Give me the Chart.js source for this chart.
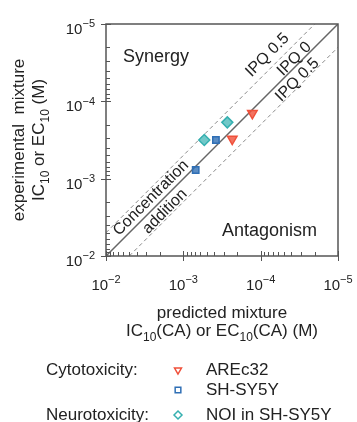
<!DOCTYPE html>
<html>
<head>
<meta charset="utf-8">
<script src="https://cdn.jsdelivr.net/npm/chart.js@4.4.1/dist/chart.umd.min.js"></script>
<style>
html,body{margin:0;padding:0;background:#fff;}
#wrap{width:357px;height:422px;position:relative;}
</style>
</head>
<body>
<div id="wrap"><canvas id="c" width="357" height="422"></canvas></div>
<script>
// ---- data ----
const seriesNames = ['AREc32', 'SH-SY5Y', 'NOI in SH-SY5Y'];
const groupNames = ['Cytotoxicity:', '', 'Neurotoxicity:'];
const predictedAREc32 = [1.28e-4, 2.33e-4];
const experimentalAREc32 = [1.43e-4, 3.07e-4];
const predictedSHSY5Y = [3.79e-4, 6.92e-4];
const experimentalSHSY5Y = [3.16e-4, 7.73e-4];
const predictedNOI = [2.70e-4, 5.36e-4];
const experimentalNOI = [1.87e-4, 3.16e-4];
const tickValues = [1e-2, 1e-3, 1e-4, 1e-5];
const tickExponents = ['\u22122', '\u22123', '\u22124', '\u22125'];
const axisMin = 1e-5, axisMax = 1e-2;
const ipqFactor = 2; // dashed lines: factor 2 from concentration addition

const colors = ['#f0503a', '#2f6fb5', '#35b0b0'];
const fills = ['rgba(240,80,58,0.8)', 'rgba(47,111,181,0.8)', 'rgba(53,176,176,0.7)'];
const styles = ['triangle', 'rect', 'rectRot'];
const rotations = [180, 0, 0];

function pts(xs, ys){ return xs.map((x,i)=>({x:x, y:ys[i]})); }

const FONT = '"Liberation Sans", Arial, sans-serif';
const TXT = '#222';

function richWidth(ctx, segs, base, small){
  let w = 0;
  segs.forEach(s=>{ ctx.font = (s.sub||s.sup? small: base) + 'px ' + FONT; w += ctx.measureText(s.t).width; });
  return w;
}
function drawRich(ctx, segs, x, y, base, small, align){
  const w = richWidth(ctx, segs, base, small);
  let cx = align === 'center' ? x - w/2 : (align === 'right' ? x - w : x);
  ctx.textAlign = 'left';
  ctx.textBaseline = 'alphabetic';
  segs.forEach(s=>{
    const sz = (s.sub||s.sup)? small: base;
    ctx.font = sz + 'px ' + FONT;
    const dy = s.sub ? base*0.28 : (s.sup ? -base*0.45 : 0);
    ctx.fillText(s.t, cx, y + dy);
    cx += ctx.measureText(s.t).width;
  });
}

const decor = {
  id: 'decor',
  afterDraw(chart){
    const ctx = chart.ctx;
    const a = chart.chartArea;
    const xs = chart.scales.x, ys = chart.scales.y;
    ctx.save();
    // frame
    ctx.strokeStyle = '#555';
    ctx.lineWidth = 1.5;
    ctx.strokeRect(a.left, a.top, a.right - a.left, a.bottom - a.top);
    // ticks
    ctx.lineWidth = 1;
    ctx.strokeStyle = '#555';
    for (let e = -5; e <= -3; e++){
      for (let k = 2; k <= 9; k++){
        const v = k * Math.pow(10, e);
        const px = Math.round(xs.getPixelForValue(v)) + 0.5;
        const py = Math.round(ys.getPixelForValue(v)) + 0.5;
        ctx.beginPath();
        ctx.moveTo(px, a.bottom); ctx.lineTo(px, a.bottom - 4);
        ctx.moveTo(a.left, py); ctx.lineTo(a.left + 4, py);
        ctx.stroke();
      }
    }
    tickValues.forEach(v=>{
      const px = Math.round(xs.getPixelForValue(v)) + 0.5;
      const py = Math.round(ys.getPixelForValue(v)) + 0.5;
      ctx.beginPath();
      ctx.moveTo(px, a.bottom + 5); ctx.lineTo(px, a.bottom - 5);
      ctx.moveTo(a.left - 5, py); ctx.lineTo(a.left + 5, py);
      ctx.stroke();
    });
    // tick labels
    ctx.fillStyle = TXT;
    tickValues.forEach((v,i)=>{
      const segs = [{t:'10'},{t:tickExponents[i], sup:true}];
      const px = xs.getPixelForValue(v);
      drawRich(ctx, segs, px, a.bottom + 34, 15, 11, 'center');
      const py = ys.getPixelForValue(v);
      drawRich(ctx, segs, a.left - 11, py + 10, 15, 11, 'right');
    });
    // axis titles
    const cxm = (a.left + a.right)/2, cym = (a.top + a.bottom)/2;
    drawRich(ctx, [{t:'predicted mixture'}], cxm, a.bottom + 62, 17, 12, 'center');
    drawRich(ctx, [{t:'IC'},{t:'10',sub:true},{t:'(CA) or EC'},{t:'10',sub:true},{t:'(CA) (M)'}], cxm, a.bottom + 80, 17, 12, 'center');
    ctx.save();
    ctx.translate(24, cym);
    ctx.rotate(-Math.PI/2);
    drawRich(ctx, [{t:'experimental  mixture'}], 0, 0, 17, 12, 'center');
    ctx.restore();
    ctx.save();
    ctx.translate(44, cym);
    ctx.rotate(-Math.PI/2);
    drawRich(ctx, [{t:'IC'},{t:'10',sub:true},{t:' or EC'},{t:'10',sub:true},{t:' (M)'}], 0, 0, 17, 12, 'center');
    ctx.restore();
    // region labels
    const W = a.right - a.left, H = a.bottom - a.top;
    ctx.font = '18px ' + FONT;
    ctx.textAlign = 'left'; ctx.textBaseline = 'alphabetic';
    ctx.fillText('Synergy', a.left + 0.073*W, a.top + 0.165*H);
    ctx.fillText('Antagonism', a.left + 0.50*W, a.top + 0.915*H);
    // diagonal labels
    const rot = [
      ['IPQ 0.5', 0.696, 0.134],
      ['IPQ 0', 0.812, 0.151],
      ['IPQ 0.5', 0.825, 0.241],
      ['Concentration', 0.194, 0.75],
      ['addition', 0.254, 0.808]
    ];
    ctx.font = '16px ' + FONT;
    ctx.textAlign = 'center'; ctx.textBaseline = 'middle';
    rot.forEach(r=>{
      ctx.save();
      ctx.translate(a.left + r[1]*W, a.top + r[2]*H);
      ctx.rotate(-Math.PI/4);
      ctx.fillText(r[0], 0, 0);
      ctx.restore();
    });
    // legend
    const rows = [370, 390, 415];
    ctx.font = '17px ' + FONT;
    ctx.textAlign = 'left'; ctx.textBaseline = 'middle';
    seriesNames.forEach((n,i)=>{
      if (groupNames[i]) ctx.fillText(groupNames[i], 46, rows[i]);
      ctx.fillText(n, 206, rows[i]);
      ctx.save();
      ctx.strokeStyle = colors[i];
      ctx.fillStyle = 'rgba(0,0,0,0)';
      ctx.lineWidth = 1.5;
      Chart.helpers.drawPoint(ctx, {pointStyle: styles[i], rotation: rotations[i], radius: 4, borderWidth: 1.5}, 178, rows[i]);
      ctx.restore();
      ctx.fillStyle = TXT;
      ctx.font = '17px ' + FONT;
    });
    ctx.restore();
  }
};

const lineDs = (data, dash, color, width) => ({
  type: 'line', data: data, borderColor: color, borderWidth: width, borderDash: dash,
  pointRadius: 0, showLine: true, fill: false, order: 5, tension: 0
});

new Chart(document.getElementById('c'), {
  type: 'scatter',
  data: {
    datasets: [
      lineDs([{x:axisMax, y:axisMax},{x:axisMin, y:axisMin}], [], '#666', 1.5),
      lineDs([{x:axisMax, y:axisMax/ipqFactor},{x:axisMin*ipqFactor, y:axisMin}], [4,3], '#8a8a8a', 1),
      lineDs([{x:axisMax/ipqFactor, y:axisMax},{x:axisMin, y:axisMin*ipqFactor}], [4,3], '#8a8a8a', 1),
      {label: seriesNames[0], data: pts(predictedAREc32, experimentalAREc32), pointStyle: styles[0], rotation: rotations[0],
        pointRadius: 5.5, borderColor: colors[0], backgroundColor: fills[0], borderWidth: 1.5, order: 0},
      {label: seriesNames[1], data: pts(predictedSHSY5Y, experimentalSHSY5Y), pointStyle: styles[1], rotation: rotations[1],
        pointRadius: 4.5, borderColor: colors[1], backgroundColor: fills[1], borderWidth: 1.5, order: 0},
      {label: seriesNames[2], data: pts(predictedNOI, experimentalNOI), pointStyle: styles[2], rotation: rotations[2],
        pointRadius: 5.5, borderColor: colors[2], backgroundColor: fills[2], borderWidth: 1.5, order: 0}
    ]
  },
  options: {
    responsive: false,
    animation: false,
    layout: { padding: { left: 106, right: 19, top: 24, bottom: 166 } },
    plugins: { legend: { display: false }, tooltip: { enabled: false } },
    scales: {
      x: { type: 'logarithmic', min: axisMin, max: axisMax, reverse: true,
           ticks: { display: false }, grid: { display: false, drawTicks: false }, border: { display: false } },
      y: { type: 'logarithmic', min: axisMin, max: axisMax, reverse: true,
           ticks: { display: false }, grid: { display: false, drawTicks: false }, border: { display: false } }
    }
  },
  plugins: [decor]
});
</script>
</body>
</html>
